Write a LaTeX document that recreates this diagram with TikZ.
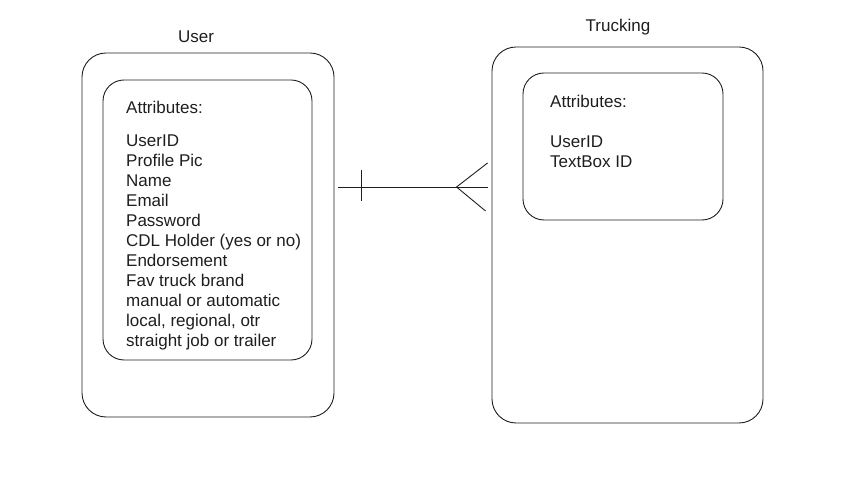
\documentclass[tikz,border=0pt]{standalone}
\usepackage{fontspec}
\setmainfont{Liberation Sans}
\tikzset{
    entity/.style={draw=ink, line width=0.9pt, rounded corners=24pt},
    attrbox/.style={draw=ink, line width=0.9pt, rounded corners=21pt},
    attrtext/.style={anchor=north west, inner sep=0pt, align=left, text=ink,
        font=\fontsize{17}{20}\selectfont},
    title/.style={text=ink, font=\fontsize{17}{20}\selectfont}
}
\definecolor{ink}{HTML}{1E1E1E}
\begin{document}
\begin{tikzpicture}[x=1pt, y=1pt]
    \useasboundingbox (0,0) rectangle (843,500);

    % User entity
    \node[title] (userlbl) at (196, 463) {User};
    \node[entity, minimum width=252pt, minimum height=364pt] (userbox) at (208, 265) {};
    \node[attrbox, minimum width=209pt, minimum height=280pt] (userattr) at (207.5, 280) {};
    \node[attrtext] (usertext) at (126, 399) {Attributes:\\[13pt]
        UserID\\ Profile Pic\\ Name\\ Email\\ Password\\ CDL Holder (yes or no)\\
        Endorsement\\ Fav truck brand\\ manual or automatic\\
        local, regional, otr\\ straight job or trailer};

    % Trucking entity
    \node[title] (trucklbl) at (618, 473) {Trucking};
    \node[entity, minimum width=271pt, minimum height=376pt] (truckbox) at (627.5, 265) {};
    \node[attrbox, minimum width=200pt, minimum height=147pt] (truckattr) at (623, 353.5) {};
    \node[attrtext] (trucktext) at (550, 405) {Attributes:\\[20pt]
        UserID\\ TextBox ID};

    % one-to-many relation
    \coordinate (one) at ([yshift=48pt]userbox.east);
    \coordinate (many) at ([yshift=48pt]truckbox.west);
    \draw[ink, line width=0.9pt, shorten <=4pt, shorten >=4pt] (one) -- (many);
    \draw[ink, line width=0.9pt] ([xshift=27pt, yshift=17pt]one) -- ([xshift=27pt, yshift=-14pt]one);
    \draw[ink, line width=0.9pt] ([xshift=-4pt, yshift=24pt]many) -- ([xshift=-35pt]many)
        -- ([xshift=-6pt, yshift=-24pt]many);
\end{tikzpicture}
\end{document}
